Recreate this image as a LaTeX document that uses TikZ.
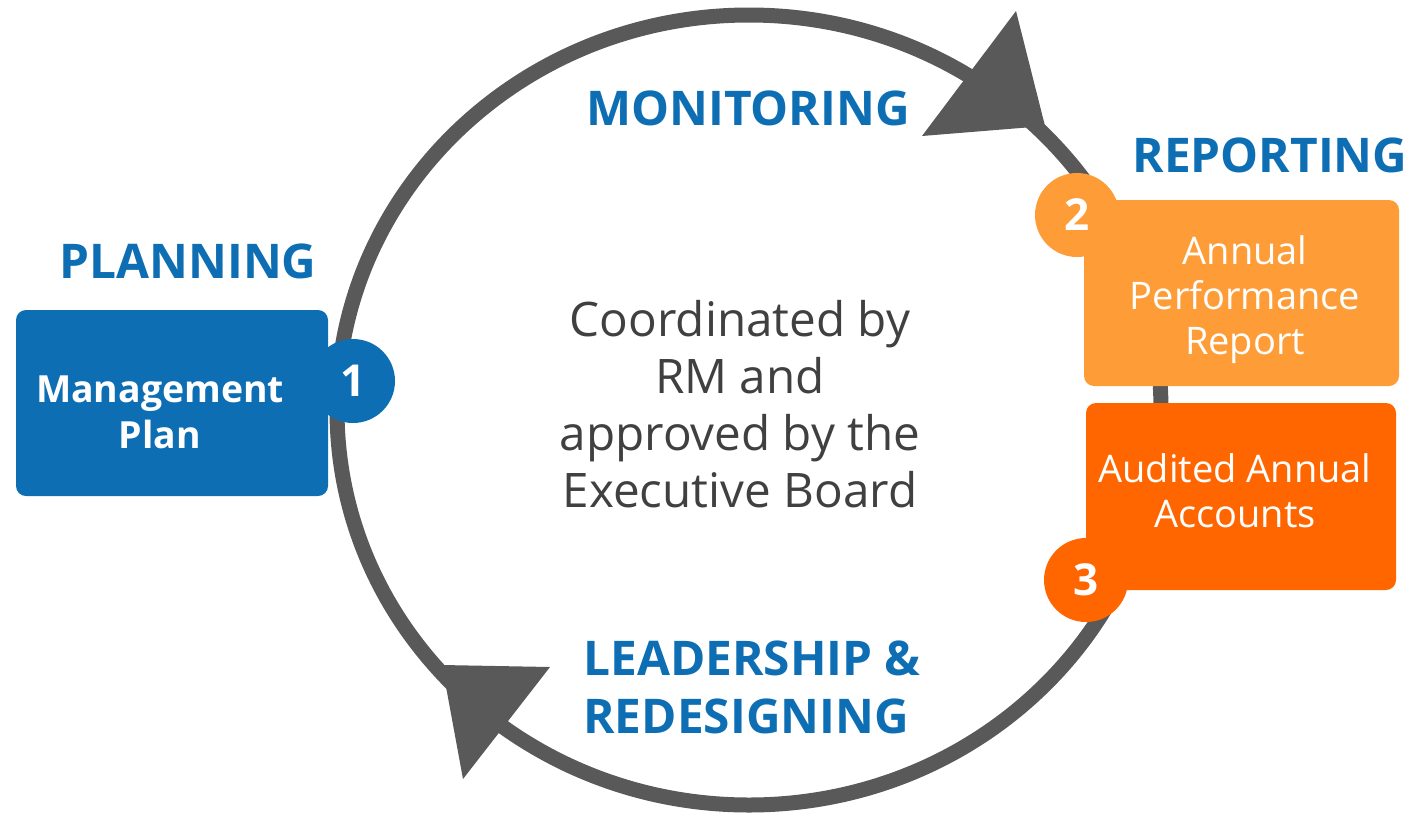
\documentclass[tikz,border=0pt]{standalone}
\usepackage{fontspec}
\setmainfont{Open Sans}
\usepackage{tikz}
\usetikzlibrary{arrows}
\definecolor{ringgray}{HTML}{595959}
\definecolor{rmblue}{HTML}{0E6EB4}
\definecolor{lightorange}{HTML}{FE9C37}
\definecolor{darkorange}{HTML}{FF6600}
\definecolor{textgray}{HTML}{404040}
\tikzset{
    box/.style={
           rectangle,
           rounded corners=5pt,
           inner sep=0pt,
           },
    boxtext/.style={
           text=white,
           align=center,
           inner sep=0pt,
           },
    num/.style={
           circle,
           inner sep=0pt,
           minimum size=42pt,
           text=white,
           font=\fontsize{22}{26}\selectfont\bfseries,
           },
    phase/.style={
           text=rmblue,
           inner sep=0pt,
           font=\fontsize{23.9}{29}\selectfont\bfseries,
           },
}

\begin{document}
\begin{tikzpicture}[x=0.5pt,y=-0.5pt]
 \useasboundingbox (0,0) rectangle (1412,814);

 % the cycle: ring and its two arrow heads
 \draw[ringgray, line width=7.5pt] (749,410) ellipse [x radius=412, y radius=395];
 \fill[ringgray] (1016,11) -- (922,136) -- (1045,126) -- cycle;
 \fill[ringgray] (442,665) -- (550,667) -- (463,779) -- cycle;

 % the three boxes
 \node[box, fill=rmblue,
 minimum width=156pt, minimum height=93pt] (MP) at (172,403) {};
 \node[box, fill=lightorange,
 minimum width=157.5pt, minimum height=93pt] (APR) at (1241.5,293) {};
 \node[box, fill=darkorange,
 minimum width=155pt, minimum height=93.5pt] (AAA) at (1241,496.5) {};

 % text in the boxes
 \node[boxtext, font=\fontsize{18.7}{23}\selectfont\bfseries] (MPtext)
 at (160,412.5) {Management\\Plan};
 \node[boxtext, font=\fontsize{19}{22.5}\selectfont] (APRtext)
 at (1245,300) {Annual\\Performance\\Report};
 \node[boxtext, font=\fontsize{19}{22.5}\selectfont] (AAAtext)
 at (1235,491) {Audited Annual\\Accounts};

 % numbered circles on top of the boxes
 \node[num, fill=rmblue] (N1) at (353,381) {1};
 \node[num, fill=lightorange] (N2) at (1077,215) {2};
 \node[num, fill=darkorange] (N3) at (1086,580) {3};

 % phase headings
 \node[phase, anchor=base] (MON) at (748,125) {MONITORING};
 \node[phase, anchor=base] (REP) at (1270,172) {REPORTING};
 \node[phase, anchor=base] (PLAN) at (188,278) {PLANNING};
 \node[phase, align=left, anchor=west] (LEAD)
 at (583,687.5) {LEADERSHIP \&\\REDESIGNING};

 % text in the middle of the ring
 \node[text=textgray, align=center, inner sep=0pt,
 font=\fontsize{23.8}{28.5}\selectfont] (CENTRE)
 at (740,404) {Coordinated by\\RM and\\approved by the\\Executive Board};
\end{tikzpicture}
\end{document}
